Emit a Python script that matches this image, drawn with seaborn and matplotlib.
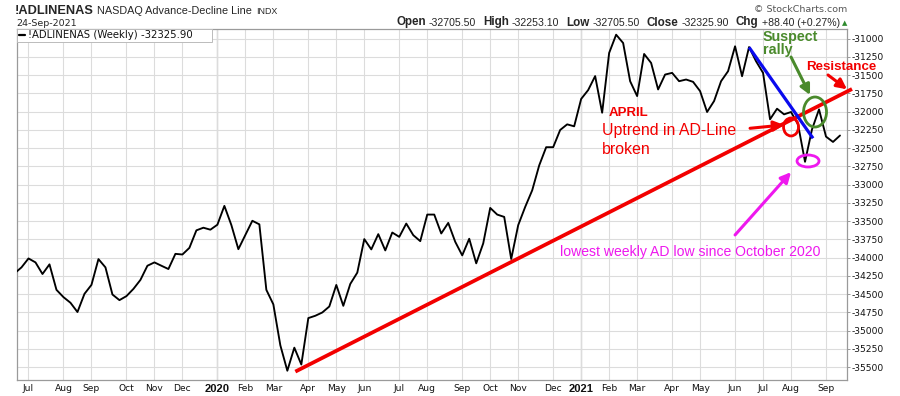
import numpy as np
import pandas as pd
import matplotlib
matplotlib.use("Agg")
import matplotlib.pyplot as plt
import matplotlib.dates as mdates
from matplotlib.patches import Ellipse, Rectangle
import seaborn as sns

# ---------------- data ----------------
START_WEEK = "2019-06-17"
adline = [
    -34215, -34132, -34010, -34064, -34223, -34091, -34440, -34540, -34617, -34744,
    -34495, -34372, -34019, -34132, -34504, -34581, -34526, -34427, -34304, -34110,
    -34064, -34110, -34155, -33947, -33956, -33865, -33625, -33589, -33616, -33548,
    -33290, -33553, -33883, -33688, -33494, -33543, -34440, -34639, -35200, -35548,
    -35232, -35463, -34827, -34795, -34750, -34668, -34373, -34659, -34359, -34204,
    -33745, -33886, -33677, -33900, -33655, -33714, -33532, -33691, -33773, -33409,
    -33409, -33668, -33523, -33782, -33968, -33740, -34077, -33804, -33318, -33409,
    -33441, -34018, -33554, -33304, -33077, -32736, -32486, -32486, -32250, -32173,
    -32200, -31825, -31704, -31512, -32014, -31195, -30945, -31059, -31582, -31786,
    -31209, -31332, -31695, -31491, -31468, -31582, -31559, -31591, -31718, -32004,
    -31854, -31582, -31445, -31104, -31514, -31114, -31309, -31468, -32104, -31959,
    -32036, -32004, -32173, -32686, -32241, -31968, -32341, -32414, -32326,
]
y_ticks = list(range(-31000, -35501, -250))
header_values = ["-32705.50", "-32253.10", "-32705.50", "-32325.90", "+88.40 (+0.27%)"]
header_labels = ["Open", "High", "Low", "Close", "Chg"]
last_close = "-32325.90"

# annotation anchors (date, value)
trend_red = [("2020-03-24", -35560), ("2021-10-02", -31689)]
trend_blue = [("2021-06-21", -31118), ("2021-08-24", -32364)]

weeks = pd.date_range(START_WEEK, periods=len(adline), freq="7D")
df = pd.DataFrame({"week": weeks, "value": adline})

# ---------------- figure ----------------
sns.set_style("white")
plt.rcParams["font.family"] = ["DejaVu Sans"]
W, H = 900, 396
fig = plt.figure(figsize=(W / 100, H / 100), dpi=100)
L, R, T, B = 16.5, 847, 29, 380
ax = fig.add_axes([L / W, 1 - B / H, (R - L) / W, (B - T) / H])

sns.lineplot(data=df, x="week", y="value", color="black", lw=1.35, ax=ax, zorder=5)

ax.set_xlim(pd.Timestamp("2019-06-19"), pd.Timestamp("2021-09-27"))
ax.set_ylim(-35675, -30867)
ax.set_xlabel("")
ax.set_ylabel("")

# y axis on right
ax.yaxis.tick_right()
ax.set_yticks(y_ticks)
ax.set_yticklabels([str(v) for v in y_ticks])
ax.tick_params(axis="y", which="major", length=2, width=0.7, color="#999999",
               labelsize=6.6, pad=1.2, labelcolor="#111111")

# month ticks: first week of each month
first_of_month = df.groupby([df.week.dt.year, df.week.dt.month])["week"].min().tolist()
first_of_month = [d for d in first_of_month if d >= pd.Timestamp("2019-06-19")]
labels = [str(d.year) if d.month == 1 else d.strftime("%b") for d in first_of_month]
ax.set_xticks(first_of_month)
ax.set_xticklabels(labels)
ax.set_xticks(weeks[1:], minor=True)
ax.tick_params(axis="x", which="major", length=1.5, width=0.7, color="#999999",
               labelsize=6.6, pad=1.2, labelcolor="#111111")
ax.tick_params(axis="x", which="minor", length=1.5, width=0.6, color="#aaaaaa")
for lab in ax.get_xticklabels():
    if lab.get_text().isdigit():
        lab.set_fontweight("bold")
        lab.set_fontfamily(["Liberation Sans"])
        lab.set_fontsize(8)

ax.grid(True, which="major", color="#dcdcdc", lw=0.8)
for d in first_of_month:
    if d.month == 1:
        ax.axvline(d, color="#b5b5b5", lw=0.9, zorder=0.5)
for s in ax.spines.values():
    s.set_color("#9a9a9a")
    s.set_linewidth(0.9)

RED = "#f20000"
GREEN = "#4a8a2c"
MAG = "#ee18ee"
BLUE = "#0a0aee"

def dn(s):
    return mdates.date2num(pd.Timestamp(s))

# trend lines
ax.plot([pd.Timestamp(trend_red[0][0]), pd.Timestamp(trend_red[1][0])],
        [trend_red[0][1], trend_red[1][1]], color=RED, lw=2.7, clip_on=False, zorder=6,
        solid_capstyle="butt")
ax.plot([pd.Timestamp(trend_blue[0][0]), pd.Timestamp(trend_blue[1][0])],
        [trend_blue[0][1], trend_blue[1][1]], color=BLUE, lw=2.3, zorder=6,
        solid_capstyle="butt")

# ellipses (width in days, height in value units)
ax.add_patch(Ellipse((dn("2021-08-02"), -32209), 15, 246, fill=False, ec=RED, lw=2.0, zorder=7))
ax.add_patch(Ellipse((dn("2021-08-26"), -32004), 23, 411, fill=False, ec=GREEN, lw=2.0, zorder=7))
ax.add_patch(Ellipse((dn("2021-08-19"), -32675), 22, 164, fill=False, ec=MAG, lw=2.0, zorder=7))

def arrow(p0, p1, color, lw=2.2):
    ax.annotate("", xy=(pd.Timestamp(p1[0]), p1[1]), xytext=(pd.Timestamp(p0[0]), p0[1]),
                arrowprops=dict(arrowstyle="-|>,head_length=0.6,head_width=0.3",
                                color=color, lw=lw, shrinkA=0, shrinkB=0),
                annotation_clip=False, zorder=8)

arrow(("2021-06-22", -32227), ("2021-07-26", -32181), RED)
arrow(("2021-08-02", -31251), ("2021-08-21", -31771), GREEN)
arrow(("2021-09-08", -31497), ("2021-09-27", -31693), RED)
arrow(("2021-06-07", -33688), ("2021-08-02", -32828), MAG)

AF = ["Liberation Sans", "DejaVu Sans"]
ax.text(pd.Timestamp("2021-02-01"), -32059, "APRIL", color=RED, fontsize=9.5,
        fontweight="bold", family=AF, va="baseline", zorder=9)
ax.text(pd.Timestamp("2021-01-25"), -32319, "Uptrend in AD-Line", color=RED, fontsize=11.4,
        family=AF, va="baseline", zorder=9)
ax.text(pd.Timestamp("2021-01-25"), -32579, "broken", color=RED, fontsize=11.4,
        family=AF, va="baseline", zorder=9)
ax.text(pd.Timestamp("2021-07-05"), -31027, "Suspect", color=GREEN, fontsize=10.3,
        fontweight="bold", family=AF, va="baseline", zorder=9)
ax.text(pd.Timestamp("2021-07-05"), -31210, "rally", color=GREEN, fontsize=10.3,
        fontweight="bold", family=AF, va="baseline", zorder=9)
ax.text(pd.Timestamp("2021-08-17"), -31435, "Resistance", color=RED, fontsize=9.6,
        fontweight="bold", family=AF, va="baseline", zorder=9, clip_on=False)
ax.text(pd.Timestamp("2020-12-14"), -33976, "lowest weekly AD low since October 2020",
        color=MAG, fontsize=10.1, family=AF, va="baseline", zorder=9)

# legend box inside the plot
fig.patches.append(Rectangle((L / W, 1 - 42 / H), (212 - L) / W, (42 - T) / H,
                             transform=fig.transFigure, fc="white", ec="#bbbbbb", lw=0.7,
                             zorder=10))
fig.lines.append(plt.Line2D([18.5 / W, 24.5 / W], [1 - 34.5 / H, 1 - 34.5 / H],
                            transform=fig.transFigure, color="black", lw=1.6, zorder=11))
fig.text(28 / W, 1 - 38.5 / H, "!ADLINENAS (Weekly) " + last_close, fontsize=7.3,
         va="baseline", ha="left", color="#111111", zorder=11)

# ---------------- header ----------------
fig.text(15 / W, 1 - 13.5 / H, "!ADLINENAS", fontsize=9.2, fontweight="bold",
         family=AF, va="baseline")
fig.text(97 / W, 1 - 13.5 / H, "NASDAQ Advance-Decline Line", fontsize=7.8,
         family=AF, va="baseline")
fig.text(256 / W, 1 - 13.5 / H, "INDX", fontsize=6.4, family=AF, va="baseline")
fig.text(16 / W, 1 - 25.5 / H, "24-Sep-2021", fontsize=6.8, va="baseline")
fig.text(847 / W, 1 - 12.5 / H, "\u00a9 StockCharts.com", fontsize=6.8, va="baseline",
         ha="right", color="#555555")

renderer = fig.canvas.get_renderer()
segs = []
for i, (lab, val) in enumerate(zip(header_labels, header_values)):
    segs.append((lab, dict(fontsize=8.4, fontweight="bold", family=AF), 3))
    segs.append((val, dict(fontsize=7.6, family=AF), 7 if i < 4 else 2))
segs.append(("\u25b2", dict(fontsize=5, color="#2e8b2e"), 0))
texts = []
for s, kw, gap in segs:
    t = fig.text(0, 1 - 25.5 / H, s, va="baseline", ha="left", **kw)
    texts.append((t, gap))
widths = [t.get_window_extent(renderer).width for t, _ in texts]
total = sum(widths) + sum(g for _, g in texts)
x = 847 - total
for (t, gap), w in zip(texts, widths):
    t.set_x(x / W)
    x += w + gap

fig.savefig("out.png", dpi=100)
